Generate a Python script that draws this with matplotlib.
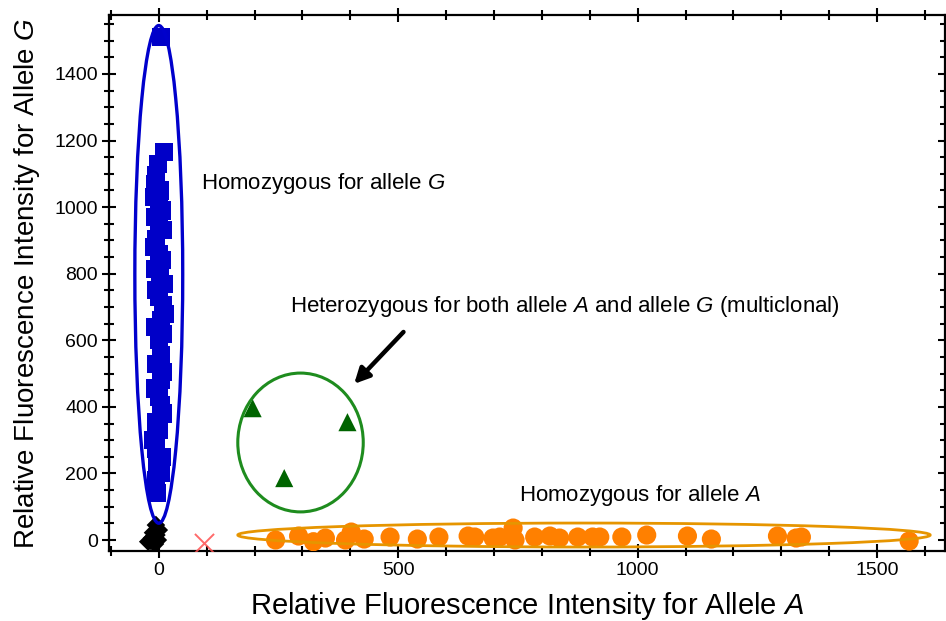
import matplotlib
matplotlib.use("Agg")
import matplotlib.pyplot as plt
from matplotlib.patches import Ellipse
from matplotlib.ticker import MultipleLocator

plt.rcParams['font.family'] = ['Liberation Sans', 'DejaVu Sans']
plt.rcParams['mathtext.fontset'] = 'custom'
plt.rcParams['mathtext.rm'] = 'Liberation Sans'
plt.rcParams['mathtext.it'] = 'Liberation Sans:italic'

# ---- data ----
blue_y = [1510, 1165, 1130, 1095, 1070, 1050, 1030, 1010, 990, 970, 950, 930, 905, 880,
          860, 840, 815, 790, 770, 750, 730, 705, 680, 660, 640, 620, 600, 555, 530, 505,
          480, 455, 430, 405, 380, 355, 330, 300, 275, 250, 225, 200, 180, 140]
blue_x = [5, 10, -2, -6, -8, 2, -9, 0, 6, -8, 0, 8, -5, -10, 0, 7, -8, 2, 10, -6, 0, 9, 12, 4,
          -7, 8, 0, 4, -5, 8, 5, -8, 0, 4, 8, -6, 0, -12, -5, 6, -3, 4, -6, -4]

black_x = [-22, -8, -2, -14, -5, 0, -17, -6, -12]
black_y = [-5, -12, 0, 6, 15, 30, -2, 45, 22]

red_x = [94]
red_y = [-9]

green_x = [196, 262, 394]
green_y = [396, 186, 354]

orange_x = [244, 292, 323, 348, 390, 402, 429, 483, 540, 585, 646, 660, 698, 712, 740,
            744, 785, 817, 837, 875, 906, 921, 967, 1019, 1104, 1154, 1292, 1331, 1342, 1567]
orange_y = [0, 12, -5, 6, 0, 24, 3, 9, 3, 9, 12, 9, 6, 9, 36,
            0, 9, 12, 6, 9, 9, 9, 9, 15, 12, 3, 12, 6, 9, -3]

xlim = (-104, 1642)
ylim = (-33, 1577)

fig = plt.figure(figsize=(9.46, 6.21), dpi=100)
ax = fig.add_axes([0.1152, 0.1127, 0.8838, 0.8631])

ax.scatter(orange_x, orange_y, s=190, marker='o', color='#ff8000', edgecolors='none', zorder=3)
ax.scatter(blue_x, blue_y, s=170, marker='s', color='#0000c8', edgecolors='none', zorder=3)
ax.scatter(black_x, black_y, s=90, marker='D', color='black', edgecolors='none', zorder=3)
ax.scatter(red_x, red_y, s=190, marker='x', color='#ff5050', linewidths=1.4, zorder=3, alpha=0.85)
ax.scatter(green_x, green_y, s=170, marker='^', color='#006400', edgecolors='none', zorder=3)

# cluster outlines
ax.add_patch(Ellipse((0, 798), 100, 1495, fill=False, edgecolor='#0000cc', lw=2.4, zorder=4))
ax.add_patch(Ellipse((296, 293), 262, 417, fill=False, edgecolor='#1e8c1e', lw=2.2, zorder=4))
ax.add_patch(Ellipse((888, 15), 1446, 72, fill=False, edgecolor='#e69500', lw=2.0, zorder=4))

# annotations
ax.text(88, 1072, r"Homozygous for allele $\it{G}$", fontsize=16, va='center', ha='left')
ax.text(274, 700, r"Heterozygous for both allele $\it{A}$ and allele $\it{G}$ (multiclonal)",
        fontsize=16, va='center', ha='left')
ax.text(752, 135, r"Homozygous for allele $\it{A}$", fontsize=16, va='center', ha='left')
ax.annotate("", xy=(404, 463), xytext=(515, 631),
            arrowprops=dict(arrowstyle='-|>,head_length=0.9,head_width=0.45', lw=3.2, color='black'))

ax.set_xlim(*xlim)
ax.set_ylim(*ylim)
ax.xaxis.set_major_locator(MultipleLocator(500))
ax.xaxis.set_minor_locator(MultipleLocator(100))
ax.yaxis.set_major_locator(MultipleLocator(200))
ax.yaxis.set_minor_locator(MultipleLocator(50))

for s in ax.spines.values():
    s.set_linewidth(1.6)
ax.tick_params(which='both', top=True, right=True, labelsize=14, width=1.5, pad=3)
ax.tick_params(axis='x', which='both', direction='inout')
ax.tick_params(axis='y', which='both', direction='inout')
ax.tick_params(which='major', length=10)
ax.tick_params(which='minor', length=7)

ax.set_xlabel(r"Relative Fluorescence Intensity for Allele $\it{A}$", fontsize=21, labelpad=8)
ax.set_ylabel(r"Relative Fluorescence Intensity for Allele $\it{G}$", fontsize=20, labelpad=9)

fig.savefig("out.png", dpi=100)
